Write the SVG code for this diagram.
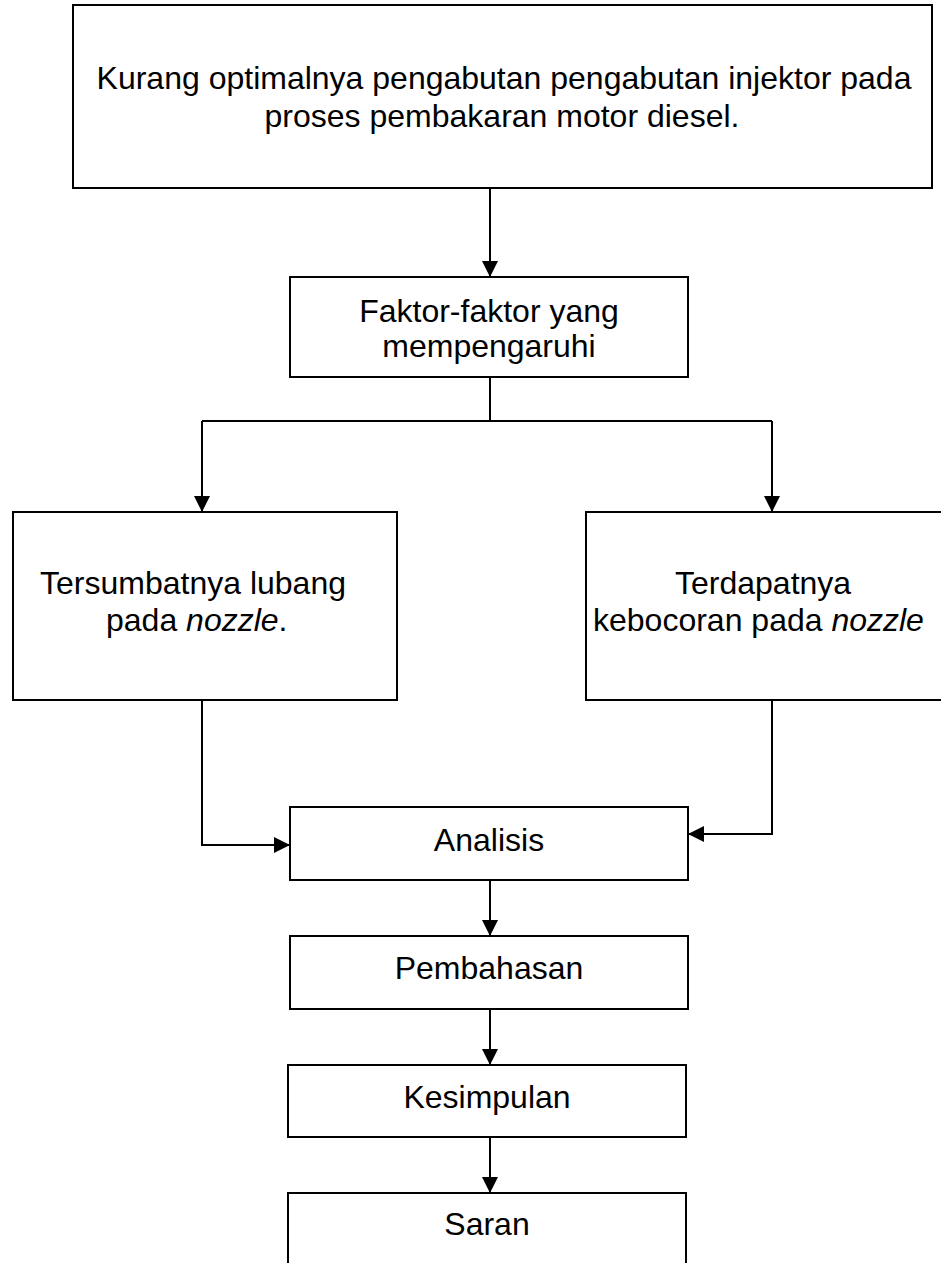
<svg xmlns="http://www.w3.org/2000/svg" width="941" height="1263" viewBox="0 0 941 1263">
<style>
.box{fill:#fff;stroke:#000;stroke-width:2}
.t{font-family:"Liberation Sans",Arial,sans-serif;font-size:32px;fill:#000}
.m{text-anchor:middle}
.c{fill:none;stroke:#000;stroke-width:2}
</style>
<defs>
<marker id="ah" viewBox="0 0 16 16" refX="16" refY="8" markerWidth="16" markerHeight="16" markerUnits="userSpaceOnUse" orient="auto">
<path d="M0,0 L16,8 L0,16 z" fill="#000"/>
</marker>
</defs>
<rect width="941" height="1263" fill="#fff"/>
<g id="connectors">
<path class="c" d="M490,188 V277" marker-end="url(#ah)"/>
<path class="c" d="M490,377 V421"/>
<path class="c" d="M202,421 H772"/>
<path class="c" d="M202,421 V512" marker-end="url(#ah)"/>
<path class="c" d="M772,421 V512" marker-end="url(#ah)"/>
<path class="c" d="M202,700 V845 H290" marker-end="url(#ah)"/>
<path class="c" d="M772,700 V834 H688" marker-end="url(#ah)"/>
<path class="c" d="M490,880 V936" marker-end="url(#ah)"/>
<path class="c" d="M490,1009 V1065" marker-end="url(#ah)"/>
<path class="c" d="M490,1137 V1193" marker-end="url(#ah)"/>
</g>
<g id="n-problem">
<rect class="box" x="73" y="5" width="859" height="183"/>
<text class="t m" x="504" y="89">Kurang optimalnya pengabutan pengabutan injektor pada</text>
<text class="t m" x="502" y="127">proses pembakaran motor diesel.</text>
</g>
<g id="n-faktor">
<rect class="box" x="290" y="277" width="398" height="100"/>
<text class="t m" x="489" y="322">Faktor-faktor yang</text>
<text class="t m" x="489" y="357">mempengaruhi</text>
</g>
<g id="n-tersumbat">
<rect class="box" x="13" y="512" width="384" height="188"/>
<text class="t" x="40" y="594">Tersumbatnya lubang</text>
<text class="t" x="106" y="631">pada <tspan font-style="italic">nozzle</tspan>.</text>
</g>
<g id="n-kebocoran">
<rect class="box" x="586" y="512" width="372" height="188"/>
<text class="t" x="675" y="594">Terdapatnya</text>
<text class="t" x="593" y="631">kebocoran pada <tspan font-style="italic">nozzle</tspan></text>
</g>
<g id="n-analisis">
<rect class="box" x="290" y="807" width="398" height="73"/>
<text class="t m" x="489" y="851">Analisis</text>
</g>
<g id="n-pembahasan">
<rect class="box" x="290" y="936" width="398" height="73"/>
<text class="t m" x="489" y="979">Pembahasan</text>
</g>
<g id="n-kesimpulan">
<rect class="box" x="288" y="1065" width="398" height="72"/>
<text class="t m" x="487" y="1108">Kesimpulan</text>
</g>
<g id="n-saran">
<rect class="box" x="288" y="1193" width="398" height="90"/>
<text class="t m" x="487" y="1235">Saran</text>
</g>
</svg>
